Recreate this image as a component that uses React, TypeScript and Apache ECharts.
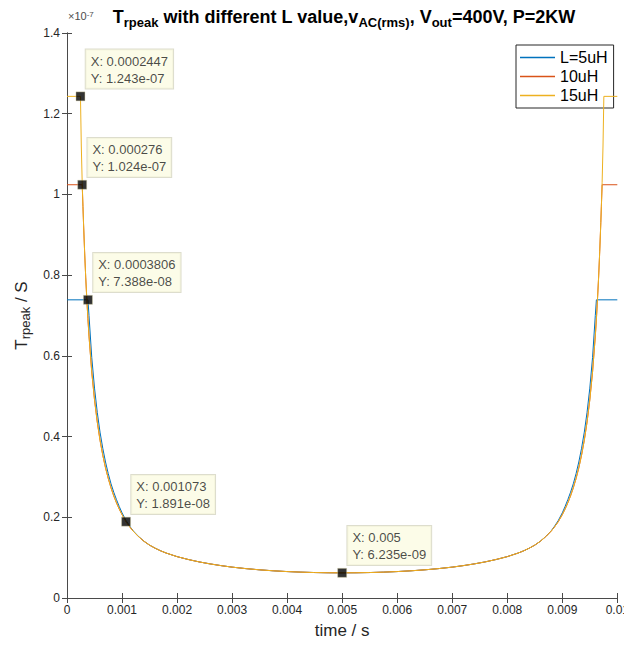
import React, { useEffect, useRef } from "react";
import * as echarts from "echarts";

// time in seconds, T_rpeak in units of 1e-7 s
const time5 = [0, 0.0003806, 0.0004, 0.00045, 0.0005, 0.00055, 0.0006, 0.00065, 0.0007, 0.00075, 0.0008, 0.00085, 0.0009, 0.00095, 0.001, 0.001073, 0.00115, 0.0012, 0.0013, 0.0014, 0.0015, 0.0016, 0.0017, 0.0018, 0.002, 0.0022, 0.0024, 0.0026, 0.0028, 0.003, 0.00325, 0.0035, 0.00375, 0.004, 0.00425, 0.0045, 0.00475, 0.005, 0.00525, 0.0055, 0.00575, 0.006, 0.00625, 0.0065, 0.00675, 0.007, 0.0072, 0.0074, 0.0076, 0.0078, 0.008, 0.0082, 0.0083, 0.0084, 0.0085, 0.0086, 0.0087, 0.0088, 0.00885, 0.008927, 0.009, 0.00905, 0.0091, 0.00915, 0.0092, 0.00925, 0.0093, 0.00935, 0.0094, 0.00945, 0.0095, 0.00955, 0.0096, 0.0096194, 0.01];
const value5 = [0.7388, 0.7388, 0.7, 0.596, 0.52, 0.46, 0.411, 0.371, 0.337, 0.308, 0.283, 0.262, 0.2435, 0.2265, 0.211, 0.192, 0.176, 0.1668, 0.1525, 0.1405, 0.131, 0.1235, 0.117, 0.1115, 0.1025, 0.0955, 0.0895, 0.0845, 0.0802, 0.0765, 0.0728, 0.0698, 0.0674, 0.0655, 0.0641, 0.0631, 0.0625, 0.06235, 0.0625, 0.0631, 0.0641, 0.0655, 0.0674, 0.0698, 0.0728, 0.0765, 0.0802, 0.0845, 0.0895, 0.0955, 0.1025, 0.1115, 0.117, 0.1235, 0.131, 0.1405, 0.1525, 0.1668, 0.176, 0.192, 0.211, 0.2265, 0.2435, 0.262, 0.283, 0.308, 0.337, 0.371, 0.411, 0.46, 0.52, 0.596, 0.7, 0.7388, 0.7388];

const time10 = [0, 0.000276, 0.00029, 0.0003, 0.00032, 0.00034, 0.00036, 0.00038, 0.0004, 0.00045, 0.0005, 0.00055, 0.0006, 0.00065, 0.0007, 0.00075, 0.0008, 0.00085, 0.0009, 0.00095, 0.001, 0.001073, 0.00115, 0.0012, 0.0013, 0.0014, 0.0015, 0.0016, 0.0017, 0.0018, 0.002, 0.0022, 0.0024, 0.0026, 0.0028, 0.003, 0.00325, 0.0035, 0.00375, 0.004, 0.00425, 0.0045, 0.00475, 0.005, 0.00525, 0.0055, 0.00575, 0.006, 0.00625, 0.0065, 0.00675, 0.007, 0.0072, 0.0074, 0.0076, 0.0078, 0.008, 0.0082, 0.0083, 0.0084, 0.0085, 0.0086, 0.0087, 0.0088, 0.00885, 0.008927, 0.009, 0.00905, 0.0091, 0.00915, 0.0092, 0.00925, 0.0093, 0.00935, 0.0094, 0.00945, 0.0095, 0.00955, 0.0096, 0.00962, 0.00964, 0.00966, 0.00968, 0.0097, 0.00971, 0.009724, 0.01];
const value10 = [1.024, 1.024, 0.97, 0.93, 0.858, 0.795, 0.741, 0.692, 0.649, 0.56, 0.491, 0.436, 0.391, 0.354, 0.3226, 0.296, 0.273, 0.253, 0.2356, 0.2202, 0.2065, 0.1891, 0.1745, 0.166, 0.152, 0.1405, 0.131, 0.1235, 0.117, 0.1115, 0.1025, 0.0955, 0.0895, 0.0845, 0.0802, 0.0765, 0.0728, 0.0698, 0.0674, 0.0655, 0.0641, 0.0631, 0.0625, 0.06235, 0.0625, 0.0631, 0.0641, 0.0655, 0.0674, 0.0698, 0.0728, 0.0765, 0.0802, 0.0845, 0.0895, 0.0955, 0.1025, 0.1115, 0.117, 0.1235, 0.131, 0.1405, 0.152, 0.166, 0.1745, 0.1891, 0.2065, 0.2202, 0.2356, 0.253, 0.273, 0.296, 0.3226, 0.354, 0.391, 0.436, 0.491, 0.56, 0.649, 0.692, 0.741, 0.795, 0.858, 0.93, 0.97, 1.024, 1.024];

const time15 = [0, 0.0002447, 0.00026, 0.000276, 0.00029, 0.0003, 0.00032, 0.00034, 0.00036, 0.00038, 0.0004, 0.00045, 0.0005, 0.00055, 0.0006, 0.00065, 0.0007, 0.00075, 0.0008, 0.00085, 0.0009, 0.00095, 0.001, 0.001073, 0.00115, 0.0012, 0.0013, 0.0014, 0.0015, 0.0016, 0.0017, 0.0018, 0.002, 0.0022, 0.0024, 0.0026, 0.0028, 0.003, 0.00325, 0.0035, 0.00375, 0.004, 0.00425, 0.0045, 0.00475, 0.005, 0.00525, 0.0055, 0.00575, 0.006, 0.00625, 0.0065, 0.00675, 0.007, 0.0072, 0.0074, 0.0076, 0.0078, 0.008, 0.0082, 0.0083, 0.0084, 0.0085, 0.0086, 0.0087, 0.0088, 0.00885, 0.008927, 0.009, 0.00905, 0.0091, 0.00915, 0.0092, 0.00925, 0.0093, 0.00935, 0.0094, 0.00945, 0.0095, 0.00955, 0.0096, 0.00962, 0.00964, 0.00966, 0.00968, 0.0097, 0.00971, 0.009724, 0.00974, 0.0097553, 0.01];
const value15 = [1.243, 1.243, 1.12, 1.03, 0.97, 0.93, 0.858, 0.795, 0.741, 0.692, 0.649, 0.56, 0.491, 0.436, 0.391, 0.354, 0.3226, 0.296, 0.273, 0.253, 0.2356, 0.2202, 0.2065, 0.1891, 0.1745, 0.166, 0.152, 0.1405, 0.131, 0.1235, 0.117, 0.1115, 0.1025, 0.0955, 0.0895, 0.0845, 0.0802, 0.0765, 0.0728, 0.0698, 0.0674, 0.0655, 0.0641, 0.0631, 0.0625, 0.06235, 0.0625, 0.0631, 0.0641, 0.0655, 0.0674, 0.0698, 0.0728, 0.0765, 0.0802, 0.0845, 0.0895, 0.0955, 0.1025, 0.1115, 0.117, 0.1235, 0.131, 0.1405, 0.152, 0.166, 0.1745, 0.1891, 0.2065, 0.2202, 0.2356, 0.253, 0.273, 0.296, 0.3226, 0.354, 0.391, 0.436, 0.491, 0.56, 0.649, 0.692, 0.741, 0.795, 0.858, 0.93, 0.97, 1.03, 1.12, 1.243, 1.243];

const tipTime = [0.0002447, 0.000276, 0.0003806, 0.001073, 0.005];
const tipValue = [1.243, 1.024, 0.7388, 0.1891, 0.06235];
const tipText = [
  "X: 0.0002447\nY: 1.243e-07",
  "X: 0.000276\nY: 1.024e-07",
  "X: 0.0003806\nY: 7.388e-08",
  "X: 0.001073\nY: 1.891e-08",
  "X: 0.005\nY: 6.235e-09",
];

const seriesNames = ["L=5uH", "10uH", "15uH"];
const seriesColors = ["#0072BD", "#D95319", "#EDB120"];

const FONT = "Liberation Sans, Arial, Helvetica, sans-serif";
const AXIS = "#262626";

function pairs(xs: number[], ys: number[]) {
  return xs.map((x, i) => [x, ys[i]]);
}

export default function App() {
  const ref = useRef<HTMLDivElement>(null);
  useEffect(() => {
    if (!ref.current) return;
    const chart = echarts.init(ref.current, undefined, { renderer: "svg" });
    const axisCommon = {
      type: "value" as const,
      axisLine: { show: true, lineStyle: { color: "#4a4a4a", width: 1 } },
      axisTick: { show: true, inside: true, length: 5, lineStyle: { color: "#4a4a4a" } },
      splitLine: { show: false },
    };
    chart.setOption({
      animation: false,
      textStyle: { fontFamily: FONT },
      legend: {
        data: seriesNames,
        orient: "vertical",
        left: 516,
        top: 45,
        padding: [3, 6, 3, 4],
        itemGap: 0,
        itemWidth: 35,
        itemHeight: 1.5,
        icon: "rect",
        backgroundColor: "#fff",
        borderColor: "#262626",
        borderWidth: 1,
        borderRadius: 0,
        textStyle: { fontSize: 16, color: "#000", lineHeight: 19, fontFamily: FONT },
      },
      grid: { left: 67, top: 33, right: 11, bottom: 48 },
      xAxis: [
        {
          ...axisCommon,
          position: "bottom",
          min: 0,
          max: 0.01,
          interval: 0.001,
          name: "time / s",
          nameLocation: "middle",
          nameGap: 24,
          nameTextStyle: { fontSize: 17, color: AXIS, fontFamily: FONT },
          axisLabel: { fontSize: 12, color: AXIS, margin: 6, fontFamily: FONT },
        },
        {
          ...axisCommon,
          position: "top",
          min: 0,
          max: 0.01,
          interval: 0.001,
          axisLabel: { show: false },
        },
      ],
      yAxis: [
        {
          ...axisCommon,
          position: "left",
          min: 0,
          max: 1.4,
          interval: 0.2,
          name: "{t|T}{s|rpeak}{t| / S}",
          nameLocation: "middle",
          nameGap: 33,
          nameTextStyle: {
            rich: {
              t: { fontSize: 17, color: AXIS, lineHeight: 22, fontFamily: FONT },
              s: { fontSize: 13, color: AXIS, lineHeight: 12, verticalAlign: "bottom", fontFamily: FONT },
            },
          },
          axisLabel: { fontSize: 12, color: AXIS, margin: 7, fontFamily: FONT },
        },
        {
          ...axisCommon,
          position: "right",
          min: 0,
          max: 1.4,
          interval: 0.2,
          axisLabel: { show: false },
        },
      ],
      graphic: [
        {
          type: "text",
          x: 344,
          y: 5,
          style: {
            text: "{m|T}{s|rpeak}{m| with different L value,v}{s|AC(rms)}{m|, V}{s|out}{m|=400V, P=2KW}",
            align: "center",
            verticalAlign: "top",
            rich: {
              m: { fontSize: 18, fontWeight: "bold", fill: "#000", lineHeight: 24, fontFamily: FONT },
              s: { fontSize: 13, fontWeight: "bold", fill: "#000", lineHeight: 12, verticalAlign: "bottom", fontFamily: FONT },
            },
          },
        },
        {
          type: "text",
          left: 68,
          top: 10,
          style: {
            text: "×10{sup|-7}",
            fontSize: 11,
            fill: "#4d4d4d",
            fontFamily: FONT,
            rich: { sup: { fontSize: 8, verticalAlign: "top", lineHeight: 8, fill: "#4d4d4d" } },
          },
        },
      ],
      series: [
        ...[pairs(time5, value5), pairs(time10, value10), pairs(time15, value15)].map((d, i) => ({
          type: "line",
          name: seriesNames[i],
          data: d,
          symbol: "none",
          showSymbol: false,
          lineStyle: { color: seriesColors[i], width: 1 },
          itemStyle: { color: seriesColors[i] },
          z: 2 + i,
        })),
        {
          type: "scatter",
          name: "tips",
          data: pairs(tipTime, tipValue),
          symbol: "rect",
          symbolSize: 9,
          itemStyle: { color: "#000", borderColor: "#d8d0a0", borderWidth: 0.5 },
          z: 10,
          label: {
            show: true,
            position: [10, -3],
            align: "left",
            verticalAlign: "bottom",
            formatter: (p: any) => tipText[p.dataIndex],
            fontSize: 13,
            lineHeight: 17,
            color: "#1a1a1a",
            fontFamily: FONT,
            backgroundColor: "#FBFBE2",
            borderColor: "#d4d4c0",
            borderWidth: 1,
            padding: [3, 5, 2, 5],
          },
        },
      ],
    });
    return () => chart.dispose();
  }, []);
  return <div ref={ref} style={{ width: 632, height: 646, margin: -8 }} />;
}
